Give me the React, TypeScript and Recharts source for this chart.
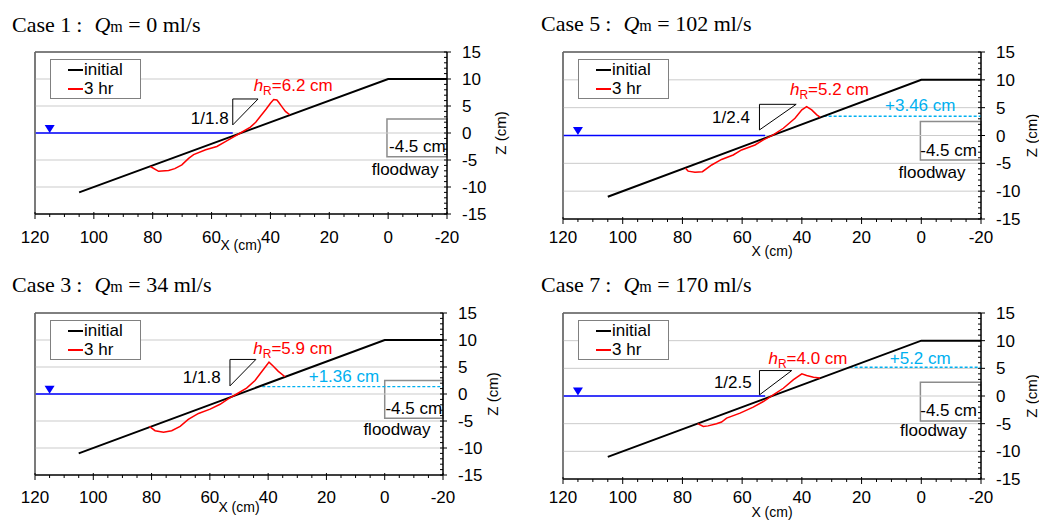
import React from "react";
import {
  LineChart,
  Line,
  XAxis,
  YAxis,
  ReferenceLine,
  ReferenceArea,
  ReferenceDot,
  Legend,
} from "recharts";

const SANS = "'Liberation Sans', Arial, sans-serif";
const SERIF = "'Liberation Serif', 'Times New Roman', serif";

// axis ticks
const xTicks = [120, 115, 110, 105, 100, 95, 90, 85, 80, 75, 70, 65, 60, 55, 50, 45, 40, 35, 30, 25, 20, 15, 10, 5, 0, -5, -10, -15, -20];
const xTickLabels = [120, 100, 80, 60, 40, 20, 0, -20];
const zTicks = [-15, -14, -13, -12, -11, -10, -9, -8, -7, -6, -5, -4, -3, -2, -1, 0, 1, 2, 3, 4, 5, 6, 7, 8, 9, 10, 11, 12, 13, 14, 15];
const zTickLabels = [15, 10, 5, 0, -5, -10, -15];
const gridZ = [10, 5, 0, -5, -10];

// initial slope, same for every case
const initialX = [105, 0, -20];
const initialZ = [-11, 10, 10];

const seriesNames = ["initial", "3 hr"];
const seriesColors = ["#000000", "#ff0000"];

const caseNames = ["Case 1", "Case 5", "Case 3", "Case 7"];
const qmValues = [0, 102, 34, 170];
const hrValues = ["6.2", "5.2", "5.9", "4.0"];
const slopeLabels = ["1/1.8", "1/2.4", "1/1.8", "1/2.5"];
const riseValues = [null, 3.46, 1.36, 5.2];
const riseStartX = [null, 32.7, 42, 24];
const riseLabels = ["", "+3.46 cm", "+1.36 cm", "+5.2 cm"];
const waterLevel = 0;
const waterEndX = [52.8, 52.3, 52.5, 52.3];
const floodwayLabel = "-4.5 cm";

// 3 hr profiles
const case1X = [80.8, 78.0, 74.6, 72.5, 70.1, 67.8, 66.1, 62.0, 58.2, 55.3, 52.8, 50.2, 46.8, 45.0, 43.4, 41.5, 40.0, 38.9, 37.8, 37.2, 36.0, 34.9, 33.5];
const case1Z = [-6.2, -7.1, -6.95, -6.6, -5.9, -4.7, -4.0, -3.1, -2.5, -1.6, -0.8, 0.0, 1.1, 2.0, 3.1, 4.4, 5.5, 6.2, 6.1, 5.7, 4.8, 4.0, 3.4];
const case5X = [79.0, 78.1, 75.8, 73.3, 70.2, 66.9, 63.0, 60.2, 55.7, 52.9, 49.6, 46.2, 42.3, 40.0, 38.4, 36.7, 35.0, 33.9];
const case5Z = [-5.9, -6.4, -6.6, -6.5, -5.3, -4.3, -3.5, -2.6, -1.7, -0.8, 0.1, 1.3, 3.1, 4.6, 5.2, 4.6, 3.7, 3.3];
const case3X = [80.8, 78.8, 75.9, 73.1, 70.2, 67.4, 63.9, 59.9, 56.5, 53.7, 50.8, 47.4, 44.5, 41.7, 39.7, 38.3, 36.5, 34.2];
const case3Z = [-6.0, -6.8, -7.1, -6.8, -6.0, -4.7, -3.6, -2.8, -1.9, -0.9, 0.0, 1.1, 2.5, 4.5, 5.9, 5.2, 4.2, 3.2];
const case7X = [74.9, 73.0, 71.4, 68.6, 66.9, 65.2, 60.7, 56.3, 52.9, 49.6, 46.2, 42.8, 40.0, 38.4, 36.1, 33.9];
const case7Z = [-5.0, -5.5, -5.4, -5.0, -4.7, -4.0, -3.1, -2.0, -1.0, 0.2, 1.4, 2.95, 4.0, 3.7, 3.4, 3.25];

const profileX = [case1X, case5X, case3X, case7X];
const profileZ = [case1Z, case5Z, case3Z, case7Z];

// panel layout (pixels) and annotation anchors (data units)
const layouts = [
  {
    left: 0, top: 0, w: 520, h: 260,
    plot: { l: 35, t: 52, r: 447, b: 214 },
    titleX: 12, titleBase: 31.7, tickBase: 243, xTitleBase: 250, zTitleDx: 53,
    hr: [45.7, 7.7], slope: [54.2, 1.7], rise: [0, 0], boxText: [-0.3, -3.55], flood: [-5.8, -7.8],
    tri: { x: [52.8, 44.2], z: [6.3, 1.5] },
    box: { x: [0.4, -20], z: [2.6, -4.4] },
    marker: [115, 0.75],
  },
  {
    left: 520, top: 0, w: 519, h: 260,
    plot: { l: 43, t: 52, r: 461, b: 219 },
    titleX: 21, titleBase: 30.7, tickBase: 243, xTitleBase: 256, zTitleDx: 50,
    hr: [44.0, 7.2], slope: [57.4, 2.2], rise: [0.35, 4.4], boxText: [0.35, -3.6], flood: [-3.6, -7.7],
    tri: { x: [54.2, 41.9], z: [5.6, 1.0] },
    box: { x: [0.3, -20], z: [2.5, -4.4] },
    marker: [115, 0.8],
  },
  {
    left: 0, top: 260, w: 520, h: 261,
    plot: { l: 35, t: 53, r: 443, b: 215 },
    titleX: 12, titleBase: 31.7, tickBase: 243, xTitleBase: 252, zTitleDx: 49,
    hr: [45.1, 7.4], slope: [56.3, 2.1], rise: [14, 2.3], boxText: [-0.25, -3.7], flood: [-4.2, -7.6],
    tri: { x: [53.1, 44.2], z: [6.4, 1.5] },
    box: { x: [0, -20], z: [2.5, -4.5] },
    marker: [115, 0.8],
  },
  {
    left: 520, top: 260, w: 519, h: 261,
    plot: { l: 43, t: 53, r: 461, b: 219 },
    titleX: 21, titleBase: 31.7, tickBase: 243, xTitleBase: 257, zTitleDx: 50,
    hr: [51.2, 5.7], slope: [56.8, 1.45], rise: [0.35, 5.7], boxText: [0.35, -3.7], flood: [-4.1, -7.3],
    tri: { x: [54.2, 43.4], z: [4.6, 0.2] },
    box: { x: [0.3, -20], z: [2.5, -4.5] },
    marker: [115, 0.8],
  },
];

const pts = (xs: number[], zs: number[]) => xs.map((x, k) => ({ x, z: zs[k] }));

function Panel({ i }: { i: number }) {
  const L = layouts[i];
  const plot = L.plot;
  const initial = pts(initialX, initialZ);
  const profile = pts(profileX[i], profileZ[i]);
  const water = pts([120, waterEndX[i]], [waterLevel, waterLevel]);
  const tri = pts(
    [L.tri.x[0], L.tri.x[1], L.tri.x[0], L.tri.x[0]],
    [L.tri.z[0], L.tri.z[0], L.tri.z[1], L.tri.z[0]]
  );
  const riseZ = riseValues[i];
  const rise = riseZ == null ? null : pts([riseStartX[i] as number, -20], [riseZ, riseZ]);
  const xLabelDy = L.tickBase - plot.b;

  const XTick = (p: any) => {
    const v = p.payload.value;
    const lab = xTickLabels.includes(v);
    return (
      <g>
        <line x1={p.x} x2={p.x} y1={lab ? p.y - 2 : p.y} y2={lab ? p.y + 5 : p.y + 3} stroke="#000" />
        {lab && (
          <text x={p.x} y={p.y + xLabelDy} textAnchor="middle" fontSize={17} fontFamily={SANS} fill="#000">
            {v}
          </text>
        )}
      </g>
    );
  };
  const ZTick = (p: any) => {
    const v = p.payload.value;
    const lab = zTickLabels.includes(v);
    return (
      <g>
        <line x1={p.x - 3} x2={lab ? p.x + 4 : p.x} y1={p.y} y2={p.y} stroke="#000" />
        {lab && (
          <text x={p.x + 15} y={p.y + 6} fontSize={17} fontFamily={SANS} fill="#000">
            {v}
          </text>
        )}
      </g>
    );
  };
  const txt = (content: React.ReactNode, anchor: string, fill = "#000") => (p: any) => (
    <text x={p.cx} y={p.cy} textAnchor={anchor} fill={fill} fontSize={17} fontFamily={SANS}>
      {content}
    </text>
  );
  const marker = (p: any) => (
    <path d={`M${p.cx - 5},${p.cy - 4} L${p.cx + 5},${p.cy - 4} L${p.cx},${p.cy + 4} Z`} fill="#0000ff" />
  );

  return (
    <div style={{ position: "absolute", left: L.left, top: L.top, width: L.w, height: L.h }}>
      <LineChart width={L.w} height={L.h} margin={{ top: plot.t, left: plot.l, right: 0, bottom: 0 }}>
        <XAxis
          type="number"
          dataKey="x"
          domain={[-20, 120]}
          reversed
          ticks={xTicks}
          interval={0}
          height={L.h - plot.b}
          tick={XTick}
          tickLine={false}
          tickSize={0}
          tickMargin={0}
          axisLine={{ stroke: "#000" }}
          allowDataOverflow
        />
        <YAxis
          type="number"
          orientation="right"
          domain={[-15, 15]}
          ticks={zTicks}
          interval={0}
          width={L.w - plot.r}
          tick={ZTick}
          tickLine={false}
          tickSize={0}
          tickMargin={0}
          axisLine={{ stroke: "#000" }}
          allowDataOverflow
        />
        {gridZ.map((z) => (
          <ReferenceLine key={z} y={z} stroke="#cbcbcb" />
        ))}
        <ReferenceArea
          x1={L.box.x[0]}
          x2={L.box.x[1]}
          y1={L.box.z[0]}
          y2={L.box.z[1]}
          fill="none"
          fillOpacity={0}
          stroke="#8c8c8c"
          strokeWidth={1.5}
        />
        <Legend
          layout="vertical"
          align="center"
          verticalAlign="middle"
          wrapperStyle={{ left: plot.l + 15, top: plot.t + 7, width: 91, height: 40 }}
          content={() => (
            <div
              style={{
                width: 91,
                height: 40,
                boxSizing: "border-box",
                border: "1px solid #808080",
                background: "#fff",
                fontFamily: SANS,
                fontSize: 17,
                lineHeight: "19px",
                paddingLeft: 17,
                color: "#000",
              }}
            >
              {seriesNames.map((n, k) => (
                <div key={n} style={{ display: "flex", alignItems: "center" }}>
                  <span style={{ width: 15, height: 0, borderTop: `2px solid ${seriesColors[k]}`, marginRight: 1 }} />
                  {n}
                </div>
              ))}
            </div>
          )}
        />
        <Line data={water} dataKey="z" stroke="#0000ff" strokeWidth={1.5} dot={false} isAnimationActive={false} legendType="none" />
        {rise && (
          <Line data={rise} dataKey="z" stroke="#00b0f0" strokeWidth={1.3} strokeDasharray="3 2" dot={false} isAnimationActive={false} legendType="none" />
        )}
        <Line data={tri} dataKey="z" stroke="#000" strokeWidth={1} dot={false} isAnimationActive={false} legendType="none" />
        <Line data={initial} dataKey="z" name={seriesNames[0]} stroke={seriesColors[0]} strokeWidth={2} dot={false} isAnimationActive={false} />
        <Line data={profile} dataKey="z" name={seriesNames[1]} stroke={seriesColors[1]} strokeWidth={1.5} dot={false} isAnimationActive={false} />
        <ReferenceDot x={L.marker[0]} y={L.marker[1]} r={3} shape={marker} />
        <ReferenceDot
          x={L.hr[0]}
          y={L.hr[1]}
          r={1}
          shape={txt(
            <>
              <tspan fontStyle="italic">h</tspan>
              <tspan fontSize={12} dy={4}>R</tspan>
              <tspan dy={-4}>{"=" + hrValues[i] + " cm"}</tspan>
            </>,
            "start",
            "#ff0000"
          )}
        />
        <ReferenceDot x={L.slope[0]} y={L.slope[1]} r={1} shape={txt(slopeLabels[i], "end")} />
        {riseLabels[i] && (
          <ReferenceDot x={L.rise[0]} y={L.rise[1]} r={1} shape={txt(riseLabels[i], "middle", "#00b0f0")} />
        )}
        <ReferenceDot x={L.boxText[0]} y={L.boxText[1]} r={1} shape={txt(floodwayLabel, "start")} />
        <ReferenceDot x={L.flood[0]} y={L.flood[1]} r={1} shape={txt("floodway", "middle")} />
        <ReferenceArea x1={120} x2={-20} y1={-15} y2={15} fill="none" fillOpacity={0} stroke="#000" strokeWidth={1} />
        <ReferenceLine x={120} stroke="#7a7a7a" strokeWidth={1.5} />
      </LineChart>
      <svg width={L.w} height={L.h} style={{ position: "absolute", left: 0, top: 0, pointerEvents: "none" }}>
        <text x={L.titleX} y={L.titleBase} fontFamily={SERIF} fontSize={22} fill="#000">
          {caseNames[i]}
          <tspan dx={5}>:</tspan>
          <tspan dx={12} fontStyle="italic">Q</tspan>
          <tspan fontSize={16}>m</tspan>
          {" = " + qmValues[i] + " ml/s"}
        </text>
        <text x={(plot.l + plot.r) / 2} y={L.xTitleBase} textAnchor="middle" fontFamily={SANS} fontSize={14} fill="#000">
          X (cm)
        </text>
        <text
          transform={`translate(${plot.r + L.zTitleDx},${(plot.t + plot.b) / 2}) rotate(-90)`}
          textAnchor="middle"
          dominantBaseline="central"
          fontFamily={SANS}
          fontSize={15}
          fill="#000"
        >
          Z (cm)
        </text>
      </svg>
    </div>
  );
}

export default function App() {
  return (
    <div style={{ position: "absolute", left: 0, top: 0, width: 1039, height: 521, background: "#fff", overflow: "hidden" }}>
      {layouts.map((_, i) => (
        <Panel key={i} i={i} />
      ))}
    </div>
  );
}
